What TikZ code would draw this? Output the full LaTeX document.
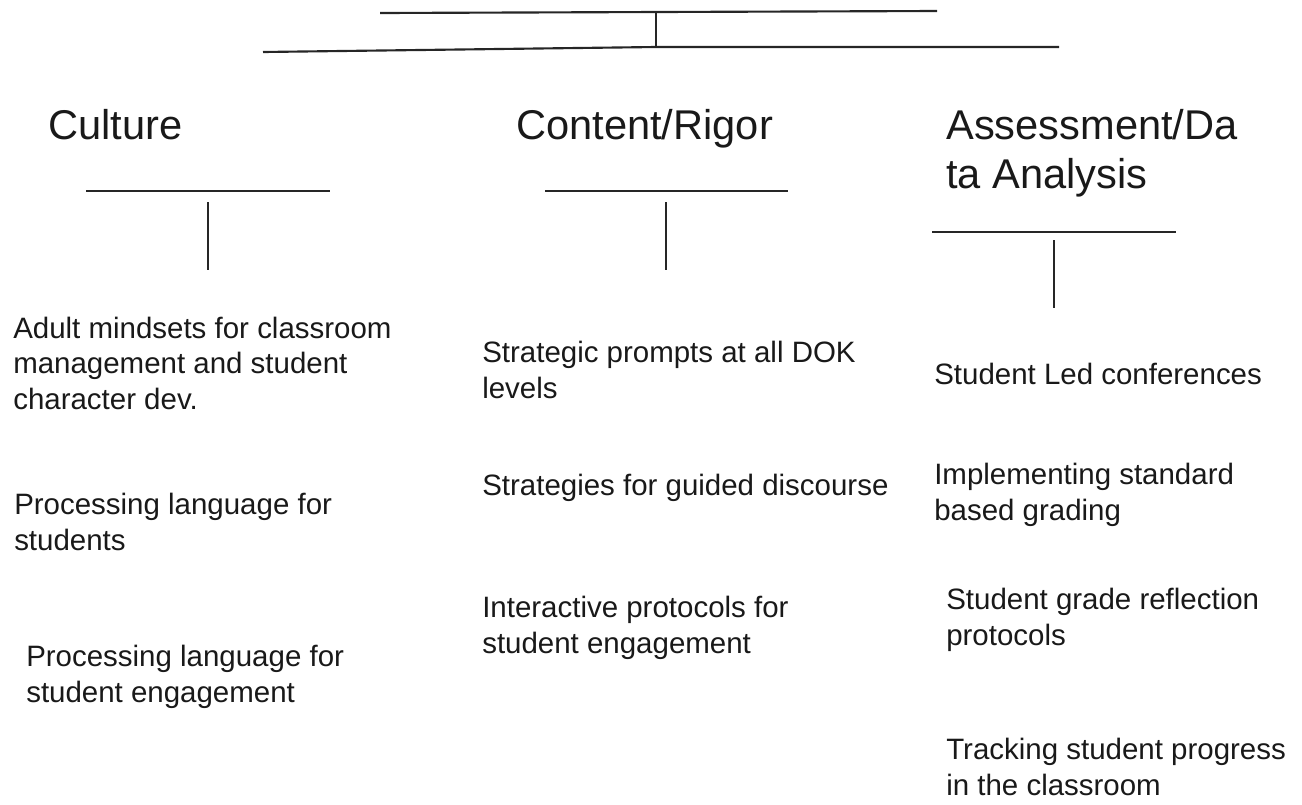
\documentclass[tikz,border=0pt]{standalone}
\usepackage{fontspec}
\setmainfont{Liberation Sans}
\begin{document}
\begin{tikzpicture}[x=0.75pt,y=-0.75pt,
  rule/.style={line width=1.6pt, draw=black!85},
  head/.style={anchor=base west, inner sep=0pt, align=left, text=black!90,
    font=\fontsize{31.2pt}{36.75pt}\selectfont},
  item/.style={anchor=base west, inner sep=0pt, align=left, text=black!90,
    font=\fontsize{22.1pt}{26.6pt}\selectfont}]
\useasboundingbox (0,0) rectangle (1302,804);
% top bracket
\coordinate (t1) at (380,13);
\coordinate (t2) at (937,11);
\coordinate (tm) at (656,12);
\coordinate (bm) at (656,47);
\coordinate (b1) at (263,52);
\coordinate (b2) at (1059,47);
\draw[rule] (t1) -- (t2);
\draw[rule] (tm) -- (bm);
\draw[rule] (b1) -- (bm) -- (b2);
% headings (anchor = baseline of last line)
\node[head] (culture) at (48,139) {Culture};
\node[head] (content) at (516,139) {Content/Rigor};
\node[head] (assess) at (946,188) {Assessment/Da\\ta Analysis};
% heading rules
\coordinate (c1) at (86,191); \coordinate (c2) at (330,191);
\coordinate (cv1) at (208,202); \coordinate (cv2) at (208,270);
\draw[rule] (c1) -- (c2); \draw[rule] (cv1) -- (cv2);
\coordinate (r1) at (545,191); \coordinate (r2) at (788,191);
\coordinate (rv1) at (666,202); \coordinate (rv2) at (666,270);
\draw[rule] (r1) -- (r2); \draw[rule] (rv1) -- (rv2);
\coordinate (a1) at (932,232); \coordinate (a2) at (1176,232);
\coordinate (av1) at (1054,240); \coordinate (av2) at (1054,308);
\draw[rule] (a1) -- (a2); \draw[rule] (av1) -- (av2);
% culture items
\node[item] (cu1) at (13,409) {Adult mindsets for classroom\\management and student\\character dev.};
\node[item] (cu2) at (14,550) {Processing language for\\students};
\node[item] (cu3) at (26,702) {Processing language for\\student engagement};
% content items
\node[item] (co1) at (482,398) {Strategic prompts at all DOK\\levels};
\node[item] (co2) at (482,495) {Strategies for guided discourse};
\node[item] (co3) at (482,653) {Interactive protocols for\\student engagement};
% assessment items
\node[item] (as1) at (934,384) {Student Led conferences};
\node[item] (as2) at (934,520) {Implementing standard\\based grading};
\node[item] (as3) at (946,645) {Student grade reflection\\protocols};
\node[item] (as4) at (946,795) {Tracking student progress\\in the classroom};
\end{tikzpicture}
\end{document}
